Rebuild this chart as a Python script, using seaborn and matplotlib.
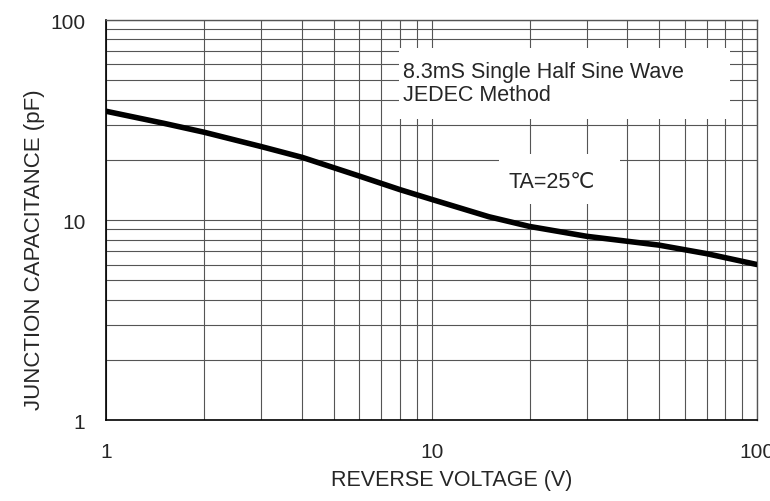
import numpy as np
import pandas as pd
import seaborn as sns
import matplotlib.pyplot as plt
from matplotlib.patches import Rectangle
from matplotlib.ticker import LogLocator, FixedLocator, NullFormatter

sns.set_theme(style="white")
plt.rcParams['font.family'] = ['Liberation Sans', 'DejaVu Sans']

# curve
voltage = [1, 1.5, 2, 3, 4, 6, 8, 10, 15, 20, 30, 50, 70, 100]
capacitance = [35.0, 30.5, 27.5, 23.3, 20.6, 16.6, 14.2, 12.7, 10.4, 9.3, 8.3, 7.5, 6.8, 6.0]
tick_vals = [1, 10, 100]
tick_labels = ["1", "10", "100"]

df = pd.DataFrame({"voltage": voltage, "capacitance": capacitance})

fig, ax = plt.subplots(figsize=(7.7, 5.02), dpi=100)
fig.subplots_adjust(left=0.138, right=0.983, top=0.958, bottom=0.161)

ax.set_xscale("log")
ax.set_yscale("log")
ax.set_xlim(1, 100)
ax.set_ylim(1, 100)

ax.xaxis.set_major_locator(FixedLocator(tick_vals))
ax.yaxis.set_major_locator(FixedLocator(tick_vals))
ax.xaxis.set_minor_locator(LogLocator(base=10, subs=np.arange(2, 10)))
ax.yaxis.set_minor_locator(LogLocator(base=10, subs=np.arange(2, 10)))
ax.xaxis.set_minor_formatter(NullFormatter())
ax.yaxis.set_minor_formatter(NullFormatter())
ax.set_xticklabels(tick_labels)
ax.set_yticklabels(tick_labels)

ax.grid(True, which="both", color="#555555", linewidth=0.8, zorder=0)
ax.set_axisbelow(True)
ax.tick_params(axis="both", which="major", direction="in", length=5, width=0.8,
               color="black", labelsize=15)
ax.tick_params(axis="x", which="major", pad=16)
ax.tick_params(axis="y", which="major", pad=15)
ax.tick_params(axis="both", which="minor", length=0)
for s in ax.spines.values():
    s.set_color("#555555")
    s.set_linewidth(1.0)
ax.spines["left"].set_color("black")
ax.spines["bottom"].set_color("black")
ax.spines["left"].set_linewidth(1.2)
ax.spines["bottom"].set_linewidth(1.2)

# white boxes behind the notes
ax.add_patch(Rectangle((0.45, 0.7525), 0.508, 0.1775, transform=ax.transAxes,
                       facecolor="white", edgecolor="none", zorder=2))
ax.add_patch(Rectangle((0.604, 0.54), 0.185, 0.125, transform=ax.transAxes,
                       facecolor="white", edgecolor="none", zorder=2))

sns.lineplot(data=df, x="voltage", y="capacitance", color="black", linewidth=4, ax=ax, zorder=5)

ax.set_xlabel("REVERSE VOLTAGE (V)", fontsize=15.5)
ax.set_ylabel("JUNCTION CAPACITANCE (pF)", fontsize=16)
ax.xaxis.set_label_coords(0.531, -0.122)
ax.yaxis.set_label_coords(-0.094, 0.4275)

ax.text(0.456, 0.843, "8.3mS Single Half Sine Wave\nJEDEC Method", transform=ax.transAxes,
        fontsize=15.5, va="center", ha="left", linespacing=1.1, zorder=6)
ax.text(0.684, 0.5975, "TA=25℃", transform=ax.transAxes, fontsize=15.5,
        va="center", ha="center", zorder=6)

plt.savefig("out.png", dpi=100)
